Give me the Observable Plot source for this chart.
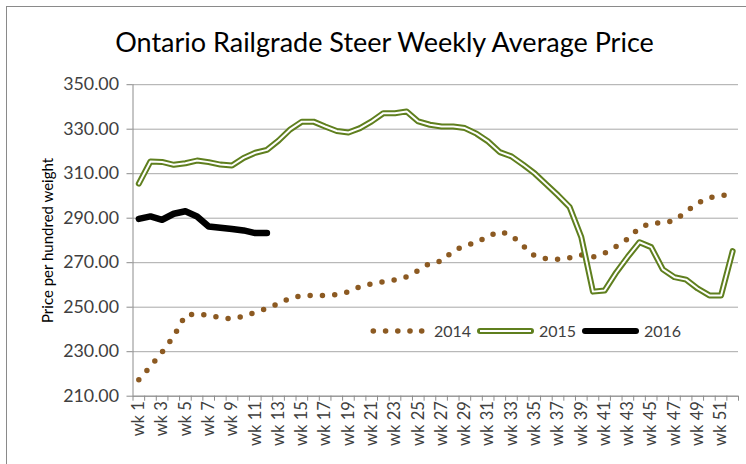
<!DOCTYPE html>
<html><head><meta charset="utf-8">
<script src="https://cdn.jsdelivr.net/npm/d3@7"></script>
<script src="https://cdn.jsdelivr.net/npm/@observablehq/plot@0.6"></script>
<style>
body{margin:0;background:#fff;}
#wrap{position:relative;width:746px;height:464px;overflow:hidden;font-family:Lato,sans-serif;background:#fff;}
#frame{position:absolute;left:6px;top:6px;width:800px;height:520px;border:1px solid #8a8a8a;}
#title{position:absolute;left:0;width:769px;top:25px;text-align:center;font-size:27px;color:#000;white-space:nowrap;}
#chart{position:absolute;left:0;top:0;}
#legend{position:absolute;left:0;top:0;}
</style></head>
<body>
<div id="wrap">
  <div id="frame"></div>
  <div id="chart"></div>
  <div id="title">Ontario Railgrade Steer Weekly Average Price</div>
  <svg id="legend" width="746" height="464" font-family="Lato" font-size="16" fill="#404040"></svg>
</div>
<script>
const weeks = d3.range(1, 53);
const labelWeeks = weeks.filter(w => w % 2 === 1);
const yTicks = [210, 230, 250, 270, 290, 310, 330, 350];
const seriesNames = ["2014", "2015", "2016"];
const values2014 = [217.4, 223.4, 229.8, 236.9, 246.4, 247.0, 246.4, 245.3, 244.8, 245.9, 247.7, 249.4, 251.6, 254.1, 255.2, 255.3, 255.3, 255.6, 256.9, 259.2, 260.5, 261.4, 262.3, 263.7, 266.5, 269.8, 270.7, 275.3, 277.7, 279.0, 282.0, 284.0, 282.3, 277.6, 273.0, 271.8, 271.5, 272.2, 273.5, 272.6, 274.3, 277.3, 280.7, 285.7, 287.8, 287.9, 289.0, 292.9, 296.8, 299.2, 300.2, 300.6];
const values2015 = [305.5, 315.5, 315.3, 314.0, 314.7, 315.9, 315.2, 314.1, 313.7, 317.1, 319.4, 320.7, 324.9, 329.9, 333.4, 333.4, 331.2, 329.2, 328.5, 330.5, 333.5, 337.2, 337.2, 338.0, 333.5, 332.0, 331.2, 331.2, 330.5, 328.0, 324.5, 319.7, 317.8, 314.1, 310.1, 305.2, 300.3, 295.0, 281.5, 257.0, 257.5, 265.6, 272.7, 279.2, 277.0, 267.0, 263.5, 262.4, 258.4, 255.3, 255.3, 275.2];
const values2016 = [289.7, 290.8, 289.3, 292.0, 293.1, 290.8, 286.3, 285.7, 285.1, 284.5, 283.3, 283.3];
const yTitle = "Price per hundred weight";

const rows = vals => vals.map((v, i) => ({week: weeks[i], value: v}));
const d2014 = rows(values2014), d2015 = rows(values2015), d2016 = rows(values2016);
const boundaries = weeks.map(w => w - 0.5).concat([weeks.length + 0.5]);

const brown = "#8c5a22", green = "#5f7f1e", axisGray = "#8c8c8c", textGray = "#404040";

const plot = Plot.plot({
  width: 746, height: 464,
  marginLeft: 132.5, marginRight: 8, marginTop: 84.2, marginBottom: 68.3,
  style: {fontFamily: "Lato", background: "transparent", overflow: "visible"},
  x: {type: "linear", domain: [0.5, 52.5]},
  y: {domain: [210, 350]},
  marks: [
    Plot.gridY(yTicks, {stroke: "#a8a8a8", strokeOpacity: 1}),
    Plot.ruleX([0.5], {stroke: axisGray}),
    Plot.ruleY([210], {stroke: axisGray}),
    Plot.axisY(yTicks, {tickSize: 6, tickPadding: 8, tickFormat: d => d.toFixed(2), fontSize: 17.8, fill: textGray, stroke: axisGray, label: null}),
    Plot.axisX(boundaries, {tickSize: 5, tickFormat: () => "", stroke: axisGray, label: null}),
    Plot.axisX(labelWeeks, {tickSize: 0, tickPadding: 5, tickRotate: -90, tickFormat: d => "wk " + d, fontSize: 16.5, fill: textGray, label: null}),
    Plot.text([yTitle], {frameAnchor: "left", dx: -85, rotate: -90, fontSize: 15, fill: "#000", textAnchor: "middle", lineAnchor: "middle"}),
    Plot.line(d2014, {x: "week", y: "value", stroke: brown, strokeWidth: 5.5, strokeDasharray: "0,12.3", strokeLinecap: "round"}),
    Plot.line(d2015, {x: "week", y: "value", stroke: green, strokeWidth: 6, strokeLinejoin: "round", strokeLinecap: "round"}),
    Plot.line(d2015, {x: "week", y: "value", stroke: "#fff", strokeWidth: 2, strokeLinejoin: "round"}),
    Plot.line(d2016, {x: "week", y: "value", stroke: "#000", strokeWidth: 6.5, strokeLinejoin: "round", strokeLinecap: "round"})
  ]
});
document.getElementById("chart").appendChild(plot);

// legend
const lg = d3.select("#legend");
const ly = 331;
[373.3, 385.6, 397.8, 410, 421.7].forEach(cx => lg.append("circle").attr("cx", cx).attr("cy", ly).attr("r", 2.8).attr("fill", brown));
lg.append("text").attr("x", 434).attr("y", ly).attr("dy", "0.36em").text(seriesNames[0]);
lg.append("line").attr("x1", 480).attr("x2", 531).attr("y1", ly).attr("y2", ly).attr("stroke", green).attr("stroke-width", 6).attr("stroke-linecap", "round");
lg.append("line").attr("x1", 480).attr("x2", 531).attr("y1", ly).attr("y2", ly).attr("stroke", "#fff").attr("stroke-width", 2);
lg.append("text").attr("x", 539).attr("y", ly).attr("dy", "0.36em").text(seriesNames[1]);
lg.append("line").attr("x1", 585).attr("x2", 636).attr("y1", ly).attr("y2", ly).attr("stroke", "#000").attr("stroke-width", 6).attr("stroke-linecap", "round");
lg.append("text").attr("x", 644).attr("y", ly).attr("dy", "0.36em").text(seriesNames[2]);
</script>
</body></html>
